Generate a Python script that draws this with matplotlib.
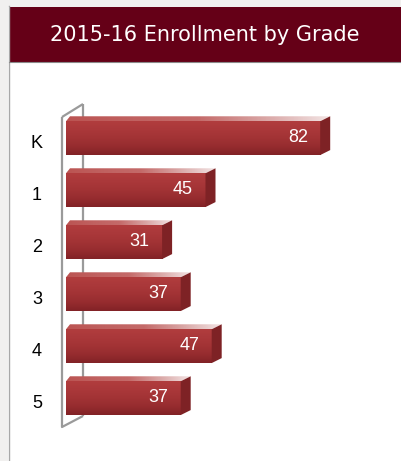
import numpy as np
import matplotlib.pyplot as plt
from matplotlib.patches import Rectangle, Polygon
from matplotlib.lines import Line2D
from matplotlib.colors import LinearSegmentedColormap

grades = ['K', '1', '2', '3', '4', '5']
enrollment = [82, 45, 31, 37, 47, 37]
title = '2015-16 Enrollment by Grade'

W, H = 402, 461
fig = plt.figure(figsize=(W / 100, H / 100), dpi=100, facecolor='white')


def fx(px):
    return px / W


def fy(py):
    return 1 - py / H


# page background strip and card border
fig.patches.append(Rectangle((0, 0), fx(8), 1, transform=fig.transFigure,
                             facecolor='#f1f0ef', edgecolor='none', zorder=0))
fig.patches.append(Rectangle((0, fy(7)), 1, 7 / H, transform=fig.transFigure,
                             facecolor='#f1f0ef', edgecolor='none', zorder=0))
fig.add_artist(Line2D([fx(8.5), fx(8.5)], [0, fy(6)], color='#a8a8a8', lw=1.0))

# header band
fig.patches.append(Rectangle((fx(9), fy(62)), 1, 55 / H, transform=fig.transFigure,
                             facecolor='#650017', edgecolor='none', zorder=1))
fig.add_artist(Line2D([fx(9), 1], [fy(62.5), fy(62.5)], color='#8a8a8a', lw=0.8))
fig.text(fx(205), fy(35), title, color='white', fontsize=15,
         family='DejaVu Sans', ha='center', va='center')

# bar axes: x runs 0..100 over 310 px, six rows of 52 px
ax = fig.add_axes([fx(66), fy(426), 310 / W, 312 / H])
ax.set_xlim(0, 100)
ax.set_ylim(5.5, -0.5)
ax.axis('off')

px_x = 3.1   # pixels per value unit
px_y = 52.0  # pixels per row
dep_x = 10 / px_x
dep_y = 5 / px_y
top_off = 0.36
bot_off = 0.29

# 3d wall bracket
fx0 = -4 / px_x
bx0 = 17 / px_x
wall_kw = dict(color='#9a9a9a', lw=1.6, clip_on=False, solid_capstyle='butt')
ax.plot([bx0, bx0], [-0.5 - 10 / px_y, 5.5 - 10 / px_y], zorder=1, **wall_kw)
ax.plot([fx0, fx0, bx0], [-0.5 + 3 / px_y, 5.5 + 1 / px_y, 5.5 - 10 / px_y], zorder=1, **wall_kw)
ax.plot([fx0, bx0], [-0.5 + 3 / px_y, -0.5 - 10 / px_y], zorder=1, **wall_kw)

ypos = np.arange(len(grades))
bars = ax.barh(ypos - (top_off - bot_off) / 2, enrollment, height=top_off + bot_off,
               color='#a3302f', edgecolor='none', zorder=3)

vgrad = np.linspace(0, 1, 100).reshape(-1, 1)
hgrad = np.linspace(0, 1, 200).reshape(1, -1)
front_cmap = LinearSegmentedColormap.from_list(
    'front', ['#b13d3e', '#aa383a', '#a23335', '#962c2f', '#822226'])
top_cmap = LinearSegmentedColormap.from_list(
    'top', ['#bb5452', '#c06160', '#c46a69', '#d9a5a4', '#f2e4e4'])

for y, v, bar in zip(ypos, enrollment, bars):
    t = y - top_off
    b = y + bot_off
    im = ax.imshow(vgrad, extent=[0, v, b, t], cmap=front_cmap, aspect='auto',
                   zorder=3.5, origin='upper')
    im.set_clip_path(bar)
    # top face with highlight toward the right end
    top = Polygon([[0, t], [v, t], [v + dep_x, t - dep_y], [dep_x * 0.4, t - dep_y]],
                  closed=True, facecolor='none', edgecolor='none', zorder=4)
    ax.add_patch(top)
    tim = ax.imshow(hgrad, extent=[0, v + dep_x, t, t - dep_y], cmap=top_cmap,
                    aspect='auto', zorder=4)
    tim.set_clip_path(top)
    # right side face
    side = Polygon([[v, t], [v + dep_x, t - dep_y], [v + dep_x, b - dep_y], [v, b]],
                   closed=True, facecolor='#7e2225', edgecolor='none', zorder=4)
    ax.add_patch(side)
    ax.text(v - 4, y - 0.04, str(v), color='white', fontsize=13,
            family='Liberation Sans', ha='right', va='center', zorder=6)

for y, g in zip(ypos, grades):
    ax.text(-29 / px_x, y + 0.06, g, color='black', fontsize=13,
            family='Liberation Sans', ha='center', va='center', clip_on=False)

ax.set_xlim(0, 100)
ax.set_ylim(5.5, -0.5)

fig.savefig('out.png', dpi=100, facecolor=fig.get_facecolor())
